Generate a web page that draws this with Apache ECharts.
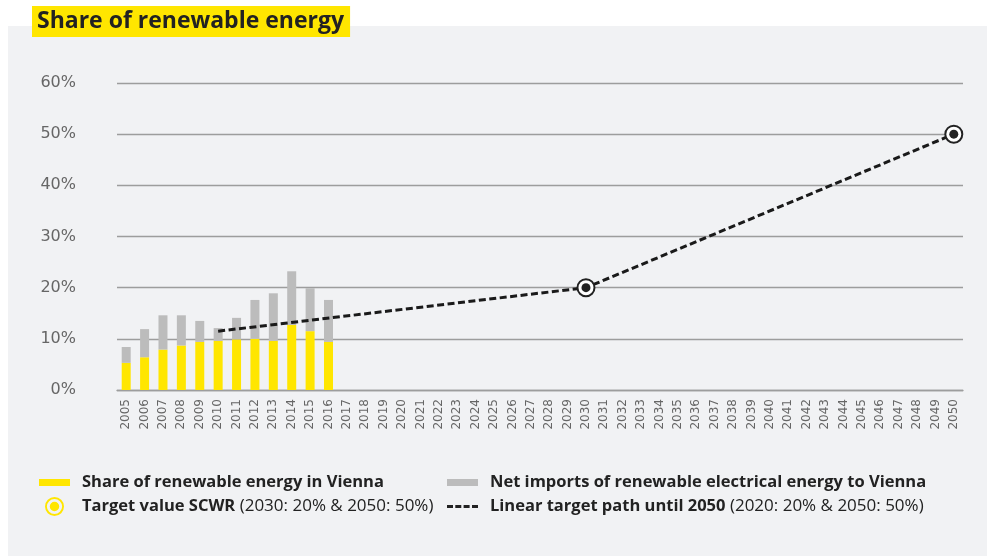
<!DOCTYPE html>
<html>
<head>
<meta charset="utf-8">
<script src="https://cdn.jsdelivr.net/npm/echarts@6/dist/echarts.min.js"></script>
<style>
  html, body { margin: 0; padding: 0; background: #fff; }
  #panel { position: absolute; left: 8px; top: 26px; width: 979px; height: 530px; background: #f1f2f4; }
  #chart { position: absolute; left: 0; top: 0; width: 987px; height: 556px; }
</style>
</head>
<body>
<div id="panel"></div>
<div id="chart"></div>
<script>
const years = ['2005', '2006', '2007', '2008', '2009', '2010', '2011', '2012', '2013', '2014', '2015', '2016',
  '2017', '2018', '2019', '2020', '2021', '2022', '2023', '2024', '2025', '2026', '2027', '2028', '2029', '2030',
  '2031', '2032', '2033', '2034', '2035', '2036', '2037', '2038', '2039', '2040', '2041', '2042', '2043', '2044',
  '2045', '2046', '2047', '2048', '2049', '2050'];
// share of renewable energy in Vienna, 2005-2016 (%)
const shareVienna = [5.3, 6.4, 7.9, 8.7, 9.4, 9.6, 9.9, 10.0, 9.6, 12.7, 11.5, 9.4];
// net imports of renewable electrical energy (%), stacked on top
const netImports = [3.1, 5.5, 6.7, 5.9, 4.1, 2.5, 4.2, 7.6, 9.3, 10.5, 8.4, 8.2];
const targetPath = [['2010', 11.5], ['2030', 20], ['2050', 50]];
const targetValues = [['2030', 20], ['2050', 50]];
const yTicks = [0, 10, 20, 30, 40, 50, 60];

const ringIcon = 'path://M0,10A10,10,0,1,1,20,10A10,10,0,1,1,0,10Z' +
  'M2,10A8,8,0,1,0,18,10A8,8,0,1,0,2,10Z' +
  'M5,10A5,5,0,1,1,15,10A5,5,0,1,1,5,10Z';
const dashIcon = 'path://M0,0h6v3h-6zM8.3,0h6v3h-6zM16.6,0h6v3h-6zM25,0h6v3h-6z';

function legendText(padLeft) {
  return { fontFamily: 'Open Sans', fontSize: 17, color: '#222', padding: [0, 0, 0, padLeft],
    rich: { b: { fontFamily: 'Open Sans', fontSize: 16.5, fontWeight: 'bold', color: '#222' } } };
}

function legendAt(left, top, name, icon, w, h, padLeft, extra) {
  return {
    left: left, top: top, padding: 0, itemWidth: w, itemHeight: h,
    selectedMode: false, textStyle: legendText(padLeft),
    data: [Object.assign({ name: name, icon: icon }, extra || {})],
    formatter: function (n) {
      if (n === 'Target value SCWR') return '{b|Target value SCWR} (2030: 20% & 2050: 50%)';
      if (n === 'Linear target path until 2050') return '{b|Linear target path until 2050} (2020: 20% & 2050: 50%)';
      return '{b|' + n + '}';
    }
  };
}

const chart = echarts.init(document.getElementById('chart'));
chart.setOption({
  animation: false,
  title: {
    text: 'Share of renewable energy',
    left: 32, top: 6,
    padding: [4, 6, 4, 5],
    backgroundColor: '#ffe600',
    textStyle: { fontFamily: 'Open Sans', fontSize: 23, fontWeight: 'bold', color: '#222' }
  },
  legend: [
    legendAt(39, 474, 'Share of renewable energy in Vienna', 'rect', 31, 7, 7),
    legendAt(45, 497, 'Target value SCWR', ringIcon, 19, 19, 13, { itemStyle: { color: '#ffe600', borderWidth: 0 } }),
    legendAt(447, 474, 'Net imports of renewable electrical energy to Vienna', 'rect', 31, 7, 7),
    legendAt(447, 498, 'Linear target path until 2050', dashIcon, 31, 3, 7, { itemStyle: { color: '#222', borderWidth: 0 } })
  ],
  grid: { left: 117, right: 24, top: 83, bottom: 166 },
  xAxis: {
    type: 'category',
    data: years,
    boundaryGap: true,
    axisLine: { lineStyle: { color: '#9d9d9d', width: 1.3 } },
    axisTick: { show: false },
    axisLabel: { interval: 0, rotate: 90, margin: 9, fontFamily: 'DejaVu Sans', fontSize: 12, color: '#666' }
  },
  yAxis: {
    type: 'value',
    min: yTicks[0], max: yTicks[yTicks.length - 1], interval: 10,
    axisLine: { show: false },
    axisTick: { show: false },
    axisLabel: { margin: 41, formatter: '{value}%', fontFamily: 'DejaVu Sans', fontSize: 16, color: '#666' },
    splitLine: { lineStyle: { color: '#9d9d9d', width: 1.3 } }
  },
  series: [
    {
      name: 'Share of renewable energy in Vienna', type: 'bar', stack: 'total',
      barWidth: 9, itemStyle: { color: '#ffe600' }, data: shareVienna
    },
    {
      name: 'Net imports of renewable electrical energy to Vienna', type: 'bar', stack: 'total',
      barWidth: 9, itemStyle: { color: '#bcbcbc' }, data: netImports
    },
    {
      name: 'Linear target path until 2050', type: 'line', data: targetPath,
      showSymbol: false, z: 5,
      lineStyle: { color: '#1a1a1a', width: 3, type: [7, 3.5] }, itemStyle: { color: '#222' }
    },
    {
      name: 'Target value SCWR', type: 'scatter', data: targetValues, z: 6,
      symbolSize: 17, itemStyle: { color: '#fff', borderColor: '#222', borderWidth: 2, opacity: 1 }
    },
    {
      name: 'target dot', type: 'scatter', data: targetValues, z: 7,
      symbolSize: 9, itemStyle: { color: '#222', opacity: 1 }
    }
  ]
});
</script>
</body>
</html>
